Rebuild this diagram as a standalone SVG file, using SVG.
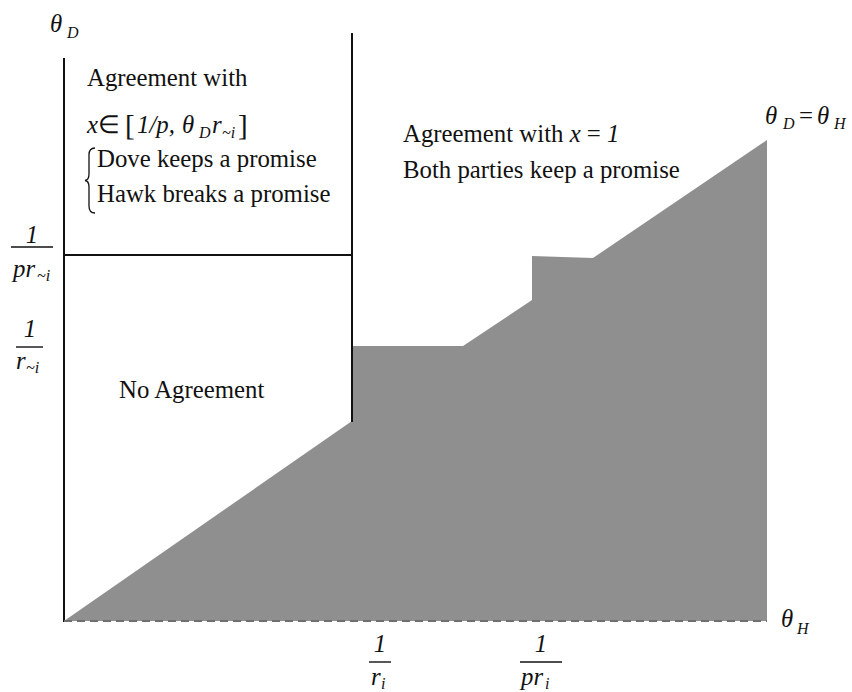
<svg xmlns="http://www.w3.org/2000/svg" width="852" height="692" viewBox="0 0 852 692">
<style>
text{font-family:"Liberation Serif","Times New Roman",serif;fill:#111}
.t{font-size:24.8px}
.m{font-size:24.8px;font-style:italic}
.s{font-size:16px;font-style:italic}
.ax{stroke:#111;stroke-width:2;fill:none}
.fr{stroke:#111;stroke-width:1.4}
</style>
<rect width="852" height="692" fill="#fff"/>
<g id="region-shaded">
<polygon points="64,621 352,421 352,346 463,346 532,300 532,256 593,258 767,140 767,621" fill="#8f8f8f"/>
</g>
<g id="axes">
<line class="ax" x1="64" y1="58" x2="64" y2="622"/>
<line class="ax" x1="352" y1="33" x2="352" y2="422"/>
<line class="ax" x1="64" y1="255" x2="352" y2="255"/>
<line x1="64" y1="621" x2="767" y2="621" stroke="#6f6f6f" stroke-width="2" stroke-dasharray="8,5"/>
</g>
<g id="axis-labels">
<text x="50" y="32" class="m">θ</text><text x="67" y="38" class="s">D</text>
<text x="781" y="627" class="m">θ</text><text x="797" y="634" class="s">H</text>
<text x="765" y="124" class="m">θ</text><text x="783" y="129" class="s">D</text>
<text x="799" y="124" class="t">=</text>
<text x="817" y="124" class="m">θ</text><text x="834" y="129" class="s">H</text>
</g>
<g id="tick-labels">
<text x="32" y="243" class="m" text-anchor="middle">1</text>
<line class="fr" x1="11" y1="247" x2="53" y2="247"/>
<text x="13" y="277" class="m">pr</text><text x="37" y="281" class="s">~i</text>
<text x="30" y="337" class="m" text-anchor="middle">1</text>
<line class="fr" x1="16" y1="347" x2="43" y2="347"/>
<text x="16" y="369" class="m">r</text><text x="26" y="373" class="s">~i</text>
<text x="380" y="652" class="m" text-anchor="middle">1</text>
<line class="fr" x1="369" y1="662" x2="391" y2="662"/>
<text x="371" y="685" class="m">r</text><text x="381" y="689" class="s">i</text>
<text x="541" y="652" class="m" text-anchor="middle">1</text>
<line class="fr" x1="520" y1="662" x2="562" y2="662"/>
<text x="521" y="685" class="m">pr</text><text x="545" y="689" class="s">i</text>
</g>
<g id="region-labels">
<text x="87" y="86" class="t">Agreement with</text>
<text x="87" y="133" class="m">x</text>
<text x="98" y="133" class="t">∈</text>
<text x="125" y="135" style="font-size:29px">[</text>
<text x="137" y="133" class="m">1/p,</text>
<text x="182" y="133" class="m">θ</text><text x="199" y="138" class="s">D</text>
<text x="212" y="133" class="m">r</text><text x="222" y="138" class="s">~i</text>
<text x="238" y="135" style="font-size:29px">]</text>
<path d="M95,148 Q89,148 89,155 L89,174 Q89,180 85,180.5 Q89,181 89,187 L89,206 Q89,213 95,213" fill="none" stroke="#111" stroke-width="1.3"/>
<text x="97" y="167" class="t">Dove keeps a promise</text>
<text x="97" y="202" class="t">Hawk breaks a promise</text>
<text x="119" y="398" class="t">No Agreement</text>
<text x="403" y="142" class="t">Agreement with <tspan font-style="italic">x</tspan> = <tspan font-style="italic">1</tspan></text>
<text x="403" y="178" class="t">Both parties keep a promise</text>
</g>
</svg>
